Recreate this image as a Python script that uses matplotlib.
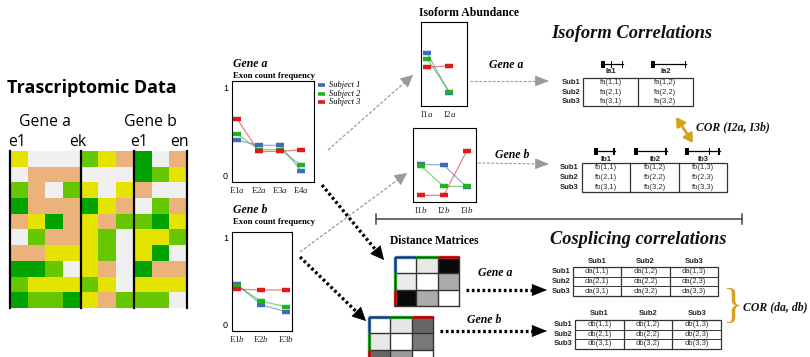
import numpy as np
import matplotlib.pyplot as plt
from matplotlib.colors import ListedColormap
from matplotlib.patches import Rectangle

plt.rcParams['mathtext.fontset'] = 'custom'
plt.rcParams['mathtext.rm'] = 'Liberation Serif'
plt.rcParams['mathtext.it'] = 'Liberation Serif:italic'

W, H = 810, 357
SERIF = 'Liberation Serif'
SANS = 'Liberation Sans'

# expression matrix: Y yellow, L light green, D dark green, O orange, W blank
heat_rows = [
    'YWWWLYODWO',
    'WOOOWWWDLY',
    'LOWLYWYOWW',
    'DOOODYOWLO',
    'OYDOYOLLDY',
    'WLOOYLWYYL',
    'OOYYYLWYDW',
    'DDLWYOWDOO',
    'LYYYLYWYYY',
    'DLLDYOLLLW',
]
heat_codes = 'YLDOW'
heat_colors = ['#E4E400', '#66C700', '#00A300', '#EBB27C', '#F0F0F0']
gene_splits = [0, 4, 7, 10]

subjects = ['Subject 1', 'Subject 2', 'Subject 3']
subj_colors = ['#3B6FB2', '#1FB51F', '#E01A1A']

# exon count frequency
exons_a = [r'E1$\mathit{a}$', r'E2$\mathit{a}$', r'E3$\mathit{a}$', r'E4$\mathit{a}$']
freq_a = [[0.40, 0.34, 0.34, 0.05],
          [0.47, 0.29, 0.29, 0.11],
          [0.64, 0.27, 0.27, 0.29]]
exons_b = [r'E1$\mathit{b}$', r'E2$\mathit{b}$', r'E3$\mathit{b}$']
freq_b = [[0.47, 0.23, 0.15],
          [0.45, 0.27, 0.21],
          [0.41, 0.40, 0.40]]

# isoform abundance
iso_a = [r'I1$\mathit{a}$', r'I2$\mathit{a}$']
abund_a = [[0.63, 0.15],
           [0.56, 0.17],
           [0.46, 0.48]]
iso_b = [r'I1$\mathit{b}$', r'I2$\mathit{b}$', r'I3$\mathit{b}$']
abund_b = [[0.51, 0.50, 0.20],
           [0.49, 0.21, 0.21],
           [0.09, 0.09, 0.69]]

# distance matrices (gray level, 1 = white)
dist_a = [[1.00, 0.91, 0.04],
          [0.92, 1.00, 0.67],
          [0.04, 0.67, 1.00]]
dist_b = [[1.00, 0.90, 0.40],
          [0.91, 1.00, 0.47],
          [0.40, 0.60, 1.00]]

sub_labels = ['Sub1', 'Sub2', 'Sub3']
iso_heads_a = ['Ia1', 'Ia2']
iso_heads_b = ['Ib1', 'Ib2', 'Ib3']

fig = plt.figure(figsize=(8.1, 3.57), dpi=100)
ax = fig.add_axes([0, 0, 1, 1])
ax.set_xlim(0, W)
ax.set_ylim(H, 0)
ax.axis('off')


def px_axes(x0, y0, x1, y1):
    return fig.add_axes([x0 / W, 1 - y1 / H, (x1 - x0) / W, (y1 - y0) / H])


# --- transcriptomic data ---
ax.text(7, 88, 'Trascriptomic Data', family='Open Sans', weight='bold', fontsize=13, va='center')
for x, s in [(19, 'Gene a'), (124, 'Gene b')]:
    ax.text(x, 122, s, family='Open Sans', fontsize=11.3, va='center')
for x, s in [(8, 'e1'), (69, 'ek'), (130, 'e1'), (170, 'en')]:
    ax.text(x, 142, s, family='Open Sans', fontsize=11.3, va='center')

hx = px_axes(10, 151, 187, 308)
grid = np.array([[heat_codes.index(c) for c in r] for r in heat_rows])
hx.imshow(grid, cmap=ListedColormap(heat_colors), vmin=-0.5, vmax=4.5,
          aspect='auto', interpolation='nearest')
for s in gene_splits:
    hx.axvline(s - 0.5, color='black', lw=1.6, clip_on=False)
hx.axis('off')


# --- small line charts ---
def line_chart(box, labels, series, xlim, ylim, yticks):
    a = px_axes(*box)
    xs = np.arange(len(labels))
    for vals, c in zip(series, subj_colors):
        a.plot(xs, vals, color=c, lw=0.9, alpha=0.55)
    for vals, c in zip(series, subj_colors):
        a.plot(xs, vals, ls='none', marker='_', ms=5.5, mew=3.2, color=c)
    a.set_xlim(*xlim)
    a.set_ylim(*ylim)
    a.set_xticks(xs)
    a.set_xticklabels(labels, family=SERIF, fontsize=6.5, color='#222')
    a.tick_params(length=0, pad=2)
    if yticks:
        a.set_yticks([0, 1])
        a.set_yticklabels(['0', '1'], family=SANS, fontsize=6.5)
        a.tick_params(axis='y', pad=3)
    else:
        a.set_yticks([])
    for sp in a.spines.values():
        sp.set_linewidth(0.8)
    return a


line_chart((232, 81, 314, 182), exons_a, freq_a, (-0.25, 3.6), (-0.08, 1.077), True)
line_chart((232, 232, 292, 331), exons_b, freq_b, (-0.19, 2.24), (-0.07, 1.065), True)
line_chart((421, 22, 467, 106), iso_a, abund_a, (-0.27, 1.78), (0, 1), False)
line_chart((413, 128, 476, 202), iso_b, abund_b, (-0.33, 2.4), (0, 1), False)

ax.text(233, 64, 'Gene a', family=SERIF, style='italic', weight='bold', fontsize=8.5, va='center')
ax.text(233, 75.5, 'Exon count frequency', family=SERIF, weight='bold', fontsize=6.3, va='center')
ax.text(233, 210, 'Gene b', family=SERIF, style='italic', weight='bold', fontsize=8.5, va='center')
ax.text(233, 222.5, 'Exon count frequency', family=SERIF, weight='bold', fontsize=6.3, va='center')
for i, (s, c) in enumerate(zip(subjects, subj_colors)):
    y = 85 + 8.5 * i
    ax.plot([318, 325], [y, y], color=c, lw=2.6, solid_capstyle='butt')
    ax.text(329, y, s, family=SERIF, style='italic', fontsize=6, va='center')

ax.text(419, 13, 'Isoform Abundance', family=SERIF, weight='bold', fontsize=8.5, va='center')


# --- arrows ---
def arrow(x0, y0, x1, y1, color, ls, lw, hw, hl):
    u = np.array([x1 - x0, y1 - y0], float)
    u /= np.hypot(*u)
    bx, by = np.array([x1, y1]) - u * hl
    ax.plot([x0, bx], [y0, by], color=color, ls=ls, lw=lw)
    ax.annotate('', xy=(x1, y1), xytext=(bx, by),
                arrowprops=dict(arrowstyle=f'-|>,head_length={hl / 10:.2f},head_width={hw / 20:.2f}',
                                color=color, lw=0.5, shrinkA=0, shrinkB=0, mutation_scale=10))


gray_dash = (0, (2.5, 1.5))
black_dot = (0, (0.8, 0.8))
arrow(328, 150, 413, 75, '#9A9A9A', gray_dash, 0.9, 8, 8)
arrow(300, 252, 407, 173, '#9A9A9A', gray_dash, 0.9, 8, 8)
arrow(470, 81, 549, 81, '#9A9A9A', gray_dash, 0.8, 7, 9)
arrow(478, 163, 549, 164, '#9A9A9A', gray_dash, 0.8, 7, 9)
arrow(322, 185, 384, 260, 'black', black_dot, 2.4, 9, 9)
arrow(300, 257, 366, 321, 'black', black_dot, 2.4, 9, 9)
arrow(466, 290, 547, 290, 'black', black_dot, 2.4, 8, 10)
arrow(440, 331, 547, 331, 'black', black_dot, 2.4, 8, 10)

ax.text(489, 65, 'Gene a', family=SERIF, style='italic', weight='bold', fontsize=8.5, va='center')
ax.text(495, 155, 'Gene b', family=SERIF, style='italic', weight='bold', fontsize=8.5, va='center')
ax.text(478, 273, 'Gene a', family=SERIF, style='italic', weight='bold', fontsize=8.5, va='center')
ax.text(467, 320, 'Gene b', family=SERIF, style='italic', weight='bold', fontsize=8.5, va='center')

# separator between isoform and cosplicing parts
ax.plot([376, 742], [219, 219], color='#444', lw=1.1)
for x in (376, 742):
    ax.plot([x, x], [214, 224], color='#444', lw=1.1)


# --- distance matrices ---
def dist_matrix(x0, y0, x1, y1, mat):
    m = px_axes(x0, y0, x1, y1)
    m.imshow(np.array(mat), cmap='gray', vmin=0, vmax=1, aspect='auto', interpolation='nearest')
    for k in (0.5, 1.5):
        m.axvline(k, color='#333', lw=1)
        m.axhline(k, color='#333', lw=1)
    for sp in m.spines.values():
        sp.set_linewidth(1)
        sp.set_color('#333')
    for i, c in enumerate(subj_colors):
        m.plot([i - 0.5, i + 0.5], [-0.5, -0.5], color=c, lw=2.4, clip_on=False, solid_capstyle='butt')
        m.plot([-0.5, -0.5], [i - 0.5, i + 0.5], color=c, lw=2.4, clip_on=False, solid_capstyle='butt')
    m.set_xlim(-0.5, 2.5)
    m.set_ylim(2.5, -0.5)
    m.set_xticks([])
    m.set_yticks([])


ax.text(390, 241, 'Distance Matrices', family=SERIF, weight='bold', fontsize=8.3, va='center')
dist_matrix(395, 257, 459, 306, dist_a)
dist_matrix(369, 317, 433, 366, dist_b)


# --- tables ---
def table(x0, x1, y0, y1, cells, heads, head_y, row_lines):
    nrow, ncol = len(cells), len(cells[0])
    ax.add_patch(Rectangle((x0, y0), x1 - x0, y1 - y0, fill=False, ec='#333', lw=0.9))
    cw = (x1 - x0) / ncol
    rh = (y1 - y0) / nrow
    for j in range(1, ncol):
        ax.plot([x0 + j * cw] * 2, [y0, y1], color='#333', lw=0.9)
    if row_lines:
        for i in range(1, nrow):
            ax.plot([x0, x1], [y0 + i * rh] * 2, color='#333', lw=0.7)
    for i in range(nrow):
        yc = y0 + (i + 0.5) * rh
        ax.text(x0 - 3, yc, sub_labels[i], family=SANS, weight='bold', fontsize=5.5,
                ha='right', va='center', color='#222')
        for j in range(ncol):
            ax.text(x0 + (j + 0.5) * cw, yc, cells[i][j], family=SANS, fontsize=5.5,
                    ha='center', va='center', color='#333')
    for j, h in enumerate(heads):
        ax.text(x0 + (j + 0.5) * cw, head_y, h, family=SANS, weight='bold', fontsize=5.5,
                ha='center', va='center', color='#222')


def glyph(y, x0, x1, blocks):
    ax.plot([x0, x1], [y, y], color='black', lw=0.9)
    for bx, bw in blocks:
        ax.add_patch(Rectangle((bx, y - 3.5), bw, 7, color='black', lw=0))


ax.text(551, 33, 'Isoform Correlations', family=SERIF, style='italic', weight='bold',
        fontsize=13.3, va='center', color='#111')
cells_fa = [[f'fa({i},{j})' for j in (1, 2)] for i in (1, 2, 3)]
cells_fb = [[f'fb({i},{j})' for j in (1, 2, 3)] for i in (1, 2, 3)]
table(583, 693, 78, 106, cells_fa, iso_heads_a, 71.3, False)
table(582, 727, 163, 192, cells_fb, iso_heads_b, 159.5, False)
glyph(64, 601, 623, [(601, 3.5), (610.5, 1.3), (622, 1.3)])
glyph(64, 651, 686, [(651, 3.5), (685, 1.3)])
glyph(151, 594, 615, [(594, 3.5), (612.5, 2.5)])
glyph(151, 634, 667, [(634, 3.5), (665, 2.2)])
glyph(151, 685, 720, [(685, 3.5), (708.5, 1.6), (718, 2.2)])

ax.annotate('', xy=(676, 117), xytext=(693, 143),
            arrowprops=dict(arrowstyle='<|-|>,head_length=0.5,head_width=0.3', color='#D6A21E',
                            lw=2, shrinkA=0, shrinkB=0, mutation_scale=10))
ax.text(696, 127, 'COR (I2a, I3b)', family=SERIF, style='italic', weight='bold', fontsize=8.5,
        va='center', color='#111')

ax.text(550, 240, 'Cosplicing correlations', family=SERIF, style='italic', weight='bold',
        fontsize=13.2, va='center', color='#111')
cells_da = [[f'da({i},{j})' for j in (1, 2, 3)] for i in (1, 2, 3)]
cells_db = [[f'db({i},{j})' for j in (1, 2, 3)] for i in (1, 2, 3)]
table(573, 718, 267, 296, cells_da, sub_labels, 261.7, True)
table(575, 721, 320, 348.5, cells_db, sub_labels, 313.5, True)

ax.text(732, 307, '}', family=SERIF, fontsize=31, va='center', ha='center', color='#D6A21E')
ax.text(743, 307, 'COR (da, db)', family=SERIF, style='italic', weight='bold', fontsize=8.5,
        va='center', color='#111')

fig.savefig('out.png', dpi=100)
